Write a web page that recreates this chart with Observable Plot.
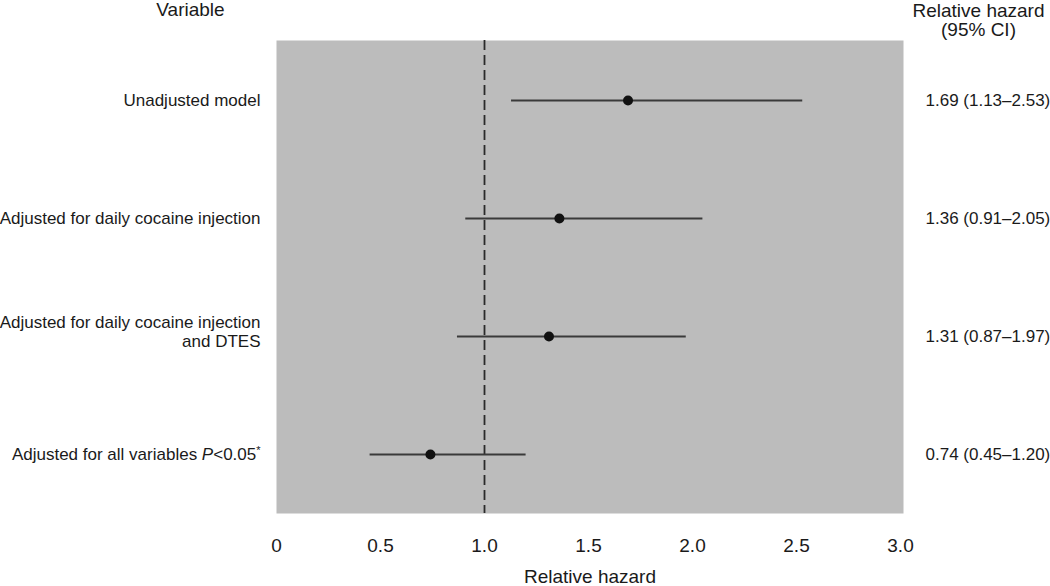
<!DOCTYPE html>
<html><head><meta charset="utf-8">
<script src="https://cdn.jsdelivr.net/npm/d3@7"></script>
<script src="https://cdn.jsdelivr.net/npm/@observablehq/plot@0.6"></script>
<style>body{margin:0;background:#fff}</style>
</head><body><div id="chart"></div>
<script>
const variables = [
  "Unadjusted model",
  "Adjusted for daily cocaine injection",
  "Adjusted for daily cocaine injection\nand DTES",
  "Adjusted for all variables P<0.05*"
];
const estimates = [1.69, 1.36, 1.31, 0.74];
const lower = [1.13, 0.91, 0.87, 0.45];
const upper = [2.53, 2.05, 1.97, 1.20];
const ciLabels = ["1.69 (1.13–2.53)", "1.36 (0.91–2.05)", "1.31 (0.87–1.97)", "0.74 (0.45–1.20)"];
const xTicks = [0, 0.5, 1.0, 1.5, 2.0, 2.5, 3.0];
const nullValue = 1;
const leftHeader = "Variable";
const rightHeader = "Relative hazard\n(95% CI)";
const xLabel = "Relative hazard";

const rows = variables.map((v, i) => ({variable: v, est: estimates[i], lo: lower[i], hi: upper[i], ci: ciLabels[i]}));
const singleLine = rows.filter(d => !d.variable.includes("\n"));
const multiLine = rows.filter(d => d.variable.includes("\n"));

const chart = Plot.plot({
  width: 1050,
  height: 586,
  marginLeft: 276,
  marginRight: 147,
  marginTop: 40,
  marginBottom: 73,
  style: {fontFamily: "'Liberation Sans', Arial, Helvetica, sans-serif", fontSize: "17px", color: "#1a1a1a", background: "#fff"},
  x: {domain: [0, 3], insetRight: 3},
  y: {type: "point", domain: variables, padding: 0.5, axis: null},
  marks: [
    Plot.frame({fill: "#bcbcbc", stroke: "none"}),
    Plot.ruleX([nullValue], {x: d => d, stroke: "#2a2a2a", strokeWidth: 1.8, strokeDasharray: "10,5"}),
    Plot.ruleY(rows, {y: "variable", x1: "lo", x2: "hi", stroke: "#3a3a3a", strokeWidth: 1.8}),
    Plot.dot(rows, {x: "est", y: "variable", r: 5, fill: "#111", stroke: "none"}),
    Plot.text(singleLine, {y: "variable", text: "variable", frameAnchor: "left", textAnchor: "end", dx: -16, fontSize: 17}),
    Plot.text(multiLine, {y: "variable", text: "variable", frameAnchor: "left", textAnchor: "end", dx: -16, dy: -5, fontSize: 17, lineHeight: 1.1}),
    Plot.text(rows, {y: "variable", text: "ci", frameAnchor: "right", textAnchor: "start", dx: 22, fontSize: 17}),
    Plot.text([leftHeader], {text: d => d, frameAnchor: "top-left", textAnchor: "middle", dx: -86, dy: -25, lineAnchor: "bottom", fontSize: 19}),
    Plot.text([rightHeader], {text: d => d, frameAnchor: "top-right", textAnchor: "middle", dx: 75, dy: -5, lineAnchor: "bottom", fontSize: 19, lineHeight: 1}),
    Plot.axisX({ticks: xTicks, tickSize: 0, tickPadding: 25, fontSize: 19, label: null, tickFormat: d => d === 0 ? "0" : d.toFixed(1)}),
    Plot.text([xLabel], {text: d => d, frameAnchor: "bottom", dy: 69, lineAnchor: "bottom", fontSize: 19})
  ]
});

// style the last label: italic P and superscript asterisk
d3.select(chart).selectAll("text").filter(function() { return this.textContent === variables[3]; }).each(function() {
  const t = d3.select(this);
  t.text(null);
  t.append("tspan").text("Adjusted for all variables ");
  t.append("tspan").attr("font-style", "italic").text("P");
  t.append("tspan").text("<0.05");
  t.append("tspan").attr("font-size", 11).attr("dy", "-0.55em").text("*");
});

document.getElementById("chart").appendChild(chart);
</script>
</body></html>
